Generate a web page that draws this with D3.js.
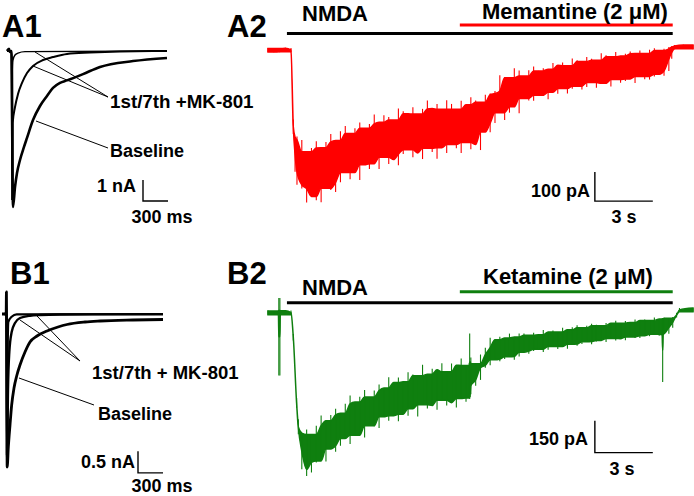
<!DOCTYPE html>
<html lang="en">
<head>
<meta charset="UTF-8">
<title>NMDA currents, MK-801 / Memantine / Ketamine</title>
<script src="https://d3js.org/d3.v7.min.js"></script>
<style>
  body { margin: 0; background: #fff; }
  text { font-family: "Liberation Sans", Arial, Helvetica, sans-serif; font-weight: bold; fill: #000; }
</style>
</head>
<body>
<svg width="694" height="496"></svg>
<script>
// ---------- A1 : evoked currents (ms, nA) ----------
const a1BaseT = [0, 24, 36, 54, 72, 96, 120, 156, 204, 240, 312, 396, 480, 552, 636, 720, 912, 1116, 1512, 1920];
const a1BaseI = [0, 0.1, -0.05, 0, -7.43, -6.48, -5.81, -5.19, -4.57, -4.14, -3.29, -2.62, -2.14, -1.76, -1.52, -1.40, -1.10, -0.76, -0.48, -0.33];
const a1FirstT = [0, 54, 64, 68, 96, 132, 180, 240, 312, 432, 552, 720, 996, 1356, 1920];
const a1FirstI = [0, 0, -7.1, -3.43, -2.67, -2.05, -1.52, -1.05, -0.71, -0.43, -0.29, -0.14, -0.07, -0.02, 0];
const a1SeventhT = [0, 54, 61, 65, 72, 96, 132, 216, 1920];
const a1SeventhI = [0, 0, -7.1, -0.9, -0.43, -0.19, -0.1, -0.03, 0];

// ---------- B1 : evoked currents (ms, nA) ----------
const b1BaseT = [-24, 26, 29, 31, 38, 52, 72, 92, 120, 152, 192, 252, 312, 396, 516, 648, 756, 972, 1152, 1548, 1908];
const b1BaseI = [0, 0, 0.507, -0.046, -3.525, -3.064, -2.558, -2.097, -1.705, -1.429, -1.175, -0.876, -0.645, -0.507, -0.392, -0.300, -0.242, -0.184, -0.161, -0.138, -0.127];
const b1FirstT = [0, 30, 38, 48, 64, 92, 132, 192, 312, 432, 672, 1908];
const b1FirstI = [0, 0, -3.364, -1.751, -0.876, -0.415, -0.207, -0.092, -0.039, -0.023, -0.012, -0.005];
const b1SeventhT = [0, 30, 36, 45.6, 52, 92, 152, 1908];
const b1SeventhI = [0, 0, -3.249, -0.599, -0.184, -0.062, -0.007, 0];

// ---------- A2 : NMDA + memantine (s, pA), upper / lower edge of the noisy trace ----------
const a2T = [0, 0.3, 0.6, 0.9, 1.19, 1.31, 1.4,
  1.5, 1.75, 2, 2.25, 2.5, 2.75, 3, 3.25, 3.5, 3.75, 4, 4.25, 4.5, 4.75, 5, 5.25, 5.5, 5.75, 6, 6.25,
  6.5, 6.75, 7, 7.25, 7.5, 7.75, 8, 8.25, 8.5, 8.75, 9, 9.25, 9.5, 9.75, 10, 10.25, 10.5, 10.75, 11,
  11.25, 11.5, 11.75, 12, 12.25, 12.5, 12.75, 13, 13.25, 13.5, 13.75, 14, 14.25, 14.5, 14.75, 15,
  15.25, 15.5, 15.75, 16, 16.25, 16.5, 16.75, 17, 17.25, 17.5, 17.75, 18, 18.25, 18.5, 18.75, 19,
  19.25, 19.5, 19.75, 20, 20.25, 20.5, 20.75,
  20.9, 21.05, 21.5, 22];
const a2Hi = [7, 5, 6, 8, 7, -240, -300,
  -298, -310, -351, -338, -315, -337, -317, -290, -312, -280, -262, -288, -270, -250, -270, -255, -222, -249, -225, -231,
  -241, -202, -211, -220, -197, -221, -203, -174, -202, -186, -204, -173, -186, -204, -175, -189, -163, -174, -180,
  -154, -150, -141, -87, -93, -96, -63, -71, -90, -70, -57, -72, -63, -66, -45, -53,
  -43, -54, -29, -35, -40, -24, -30, -35, -11, -18, -23, -7, -21, -13, -5, -12,
  -2, -12, 1, 6, -2, 4, 10,
  14, 17, 18, 17];
const a2Lo = [-7, -8, -8, -6, -7, -290, -420,
  -465, -478, -526, -505, -518, -525, -477, -483, -490, -456, -422, -446, -422, -448, -396, -410, -392, -410, -370, -393,
  -378, -397, -359, -344, -370, -355, -376, -339, -352, -375, -337, -355, -326, -339, -355, -319, -342, -326, -345,
  -283, -284, -252, -216, -241, -216, -196, -218, -167, -174, -175, -156, -159, -170, -146, -151,
  -133, -150, -134, -125, -136, -128, -112, -130, -115, -117, -126, -102, -113, -107, -100, -114,
  -91, -101, -102, -91, -84, -89, -72,
  -30, 3, 4, 3];
const a2Nmda = [0.98, 20.95];
const a2Drug = [9.93, 20.95];

// ---------- B2 : NMDA + ketamine (s, pA) ----------
const b2T = [0, 0.3, 0.54, 0.56, 0.615, 0.635, 0.9, 1.19, 1.31, 1.48, 1.57,
  1.75, 2, 2.25, 2.5, 2.75, 3, 3.25, 3.5, 3.75, 4, 4.25, 4.5, 4.75, 5, 5.25, 5.5, 5.75, 6, 6.25, 6.5,
  6.75, 7, 7.25, 7.5, 7.75, 8, 8.25, 8.5, 8.75, 9, 9.25, 9.5, 9.75, 10, 10.25, 10.42, 10.44, 10.46, 10.5,
  10.75, 11, 11.25, 11.5, 11.75, 12, 12.25, 12.5, 12.75, 13, 13.25, 13.5, 13.75, 14, 14.25, 14.5,
  14.75, 15, 15.25, 15.5, 15.75, 16, 16.25, 16.5, 16.75, 17, 17.25, 17.5, 17.75, 18, 18.25, 18.5,
  18.75, 19, 19.25, 19.5, 19.75, 20, 20.25, 20.4, 20.43, 20.46, 20.5, 20.75,
  20.95, 21.15, 21.3, 22];
const b2Hi = [10, 8, 10, 69, 69, 10, 9, 10, -100, -400, -500,
  -564, -548, -571, -530, -482, -506, -479, -450, -471, -427, -388, -419, -394, -362, -395, -365, -337, -353, -302, -327,
  -304, -324, -279, -290, -295, -244, -288, -263, -268, -237, -277, -238, -246, -215, -247, -235, -97, -230, -210,
  -239, -196, -164, -117, -127, -113, -119, -98, -114, -97, -97, -106, -94, -103, -81, -90,
  -84, -91, -71, -80, -68, -59, -71, -61, -52, -57, -61, -48, -49, -38, -49, -39,
  -46, -32, -37, -32, -36, -23, -29, -27, -28, -26, -24, -26,
  -20, 0, 22, 22];
const b2Lo = [-10, -11, -10, -294, -294, -10, -10, -10, -130, -445, -570,
  -734, -765, -749, -702, -695, -698, -639, -652, -624, -590, -616, -574, -577, -585, -530, -532, -540, -488, -507, -483,
  -509, -476, -483, -450, -487, -431, -449, -435, -455, -410, -435, -422, -444, -402, -418, -400, -405, -395, -382,
  -342, -315, -258, -246, -221, -228, -217, -207, -220, -205, -185, -193, -180, -171, -184, -174,
  -158, -170, -158, -169, -148, -155, -147, -136, -148, -135, -130, -137, -121, -130, -122, -129,
  -114, -119, -119, -108, -110, -101, -108, -104, -325, -102, -100, -99,
  -70, -22, 4, 4];
const b2Nmda = [0.98, 20.95];
const b2Drug = [9.93, 20.95];

const svg = d3.select("svg");

function pairs(t, v) { return t.map((d, i) => [d, v[i]]); }

function label(x, y, txt, size, anchor) {
  svg.append("text")
    .attr("x", x).attr("y", y)
    .attr("font-size", size + "px")
    .attr("text-anchor", anchor || "start")
    .text(txt);
}

function leader(x1, y1, x2, y2) {
  svg.append("line")
    .attr("x1", x1).attr("y1", y1).attr("x2", x2).attr("y2", y2)
    .attr("stroke", "#000").attr("stroke-width", 1);
}

// scale bar: vertical amplitude then horizontal time, in data units
function scaleBar(x, y, t0, dt, v0, dv) {
  svg.append("path")
    .attr("d", `M${x(t0)},${y(v0 + dv)}L${x(t0)},${y(v0)}L${x(t0 + dt)},${y(v0)}`)
    .attr("fill", "none").attr("stroke", "#000").attr("stroke-width", 1.4);
}

// ===== evoked panels (A1, B1) =====
function evokedPanel(x, y, traces) {
  const line = d3.line().x(d => x(d[0])).y(d => y(d[1])).curve(d3.curveMonotoneX);
  traces.forEach(tr => {
    svg.append("path")
      .datum(pairs(tr.t, tr.v))
      .attr("d", line)
      .attr("fill", "none")
      .attr("stroke", "#000")
      .attr("stroke-width", tr.w)
      .attr("stroke-linejoin", "round");
  });
}

const xA1 = d3.scaleLinear().domain([0, 1920]).range([7, 167]);
const yA1 = d3.scaleLinear().domain([0, -1]).range([51, 72]);
evokedPanel(xA1, yA1, [
  { t: a1BaseT, v: a1BaseI, w: 2.6 },
  { t: a1FirstT, v: a1FirstI, w: 2 },
  { t: a1SeventhT, v: a1SeventhI, w: 1.4 }
]);
scaleBar(xA1, yA1, 1632, 300, -7.14, 1);

const xB1 = d3.scaleLinear().domain([0, 1908]).range([4, 163]);
const yB1 = d3.scaleLinear().domain([0, -0.5]).range([314, 335.7]);
evokedPanel(xB1, yB1, [
  { t: b1BaseT, v: b1BaseI, w: 2.8 },
  { t: b1FirstT, v: b1FirstI, w: 2.4 },
  { t: b1SeventhT, v: b1SeventhI, w: 2.2 }
]);
scaleBar(xB1, yB1, 1608, 300, -3.66, 0.5);

// ===== whole-cell NMDA panels (A2, B2) =====
// the dense part of the noise is the inner envelope of neighbouring samples,
// each sample's full excursion is drawn as a hairline on top of it
function nmdaPanel(x, y, t, hi, lo, colour) {
  const rows = t.map((d, i) => {
    const a = Math.max(0, i - 1), b = Math.min(t.length - 1, i + 1);
    const mid = (hi[i] + lo[i]) / 2;
    const coreHi = Math.max(d3.min(hi.slice(a, b + 1)), mid);
    const coreLo = Math.min(d3.max(lo.slice(a, b + 1)), mid);
    return { t: d, hi: hi[i], lo: lo[i], coreHi, coreLo };
  });
  const band = d3.area()
    .x(d => x(d.t))
    .y0(d => y(d.coreLo))
    .y1(d => y(d.coreHi))
    .curve(d3.curveMonotoneX);
  svg.append("path")
    .datum(rows)
    .attr("d", band)
    .attr("fill", colour)
    .attr("stroke", colour)
    .attr("stroke-width", 1.5);
  svg.append("g").selectAll("line")
    .data(rows)
    .join("line")
    .attr("x1", d => x(d.t)).attr("x2", d => x(d.t))
    .attr("y1", d => y(d.hi)).attr("y2", d => y(d.lo))
    .attr("stroke", colour)
    .attr("stroke-width", 1.1);
}

function appBar(x, range, yPos, colour) {
  svg.append("line")
    .attr("x1", x(range[0])).attr("x2", x(range[1]))
    .attr("y1", yPos).attr("y2", yPos)
    .attr("stroke", colour).attr("stroke-width", 3);
}

const xA2 = d3.scaleLinear().domain([0, 22]).range([268, 693]);
const yA2 = d3.scaleLinear().domain([0, -100]).range([50, 79]);
nmdaPanel(xA2, yA2, a2T, a2Hi, a2Lo, "#ff0000");
appBar(xA2, a2Nmda, 33.5, "#000");
appBar(xA2, a2Drug, 25, "#ff0000");
scaleBar(xA2, yA2, 16.92, 3, -521, 100);

const xB2 = d3.scaleLinear().domain([0, 22]).range([268, 693]);
const yB2 = d3.scaleLinear().domain([0, -150]).range([312.7, 344.7]);
nmdaPanel(xB2, yB2, b2T, b2Hi, b2Lo, "#0f7f0f");
appBar(xB2, b2Nmda, 302.7, "#000");
appBar(xB2, b2Drug, 291.7, "#0f7f0f");
scaleBar(xB2, yB2, 16.92, 3, -656, 150);

// ===== text =====
label(2, 37, "A1", 31);
label(227, 37, "A2", 31);
label(10, 284, "B1", 31);
label(227, 284, "B2", 31);

label(110, 108, "1st/7th +MK-801", 18.8);
label(110, 157, "Baseline", 18);
label(136, 192, "1 nA", 18, "end");
label(162, 223, "300 ms", 18, "middle");
leader(108, 97, 35, 52);
leader(108, 97, 33, 66);
leader(108, 148, 36, 121);

label(92, 379, "1st/7th + MK-801", 18.5);
label(98, 420, "Baseline", 18);
label(135, 468, "0.5 nA", 18, "end");
label(162, 492, "300 ms", 18, "middle");
leader(80, 361, 37, 316);
leader(80, 361, 20, 320);
leader(94, 405, 19, 378);

label(302, 21, "NMDA", 22);
label(482, 19, "Memantine (2 \u03BCM)", 22);
label(590, 197, "100 pA", 18, "end");
label(624, 223, "3 s", 18, "middle");

label(302, 295, "NMDA", 22);
label(483, 284, "Ketamine (2 \u03BCM)", 22);
label(588, 445, "150 pA", 18, "end");
label(622, 475, "3 s", 18, "middle");
</script>
</body>
</html>
